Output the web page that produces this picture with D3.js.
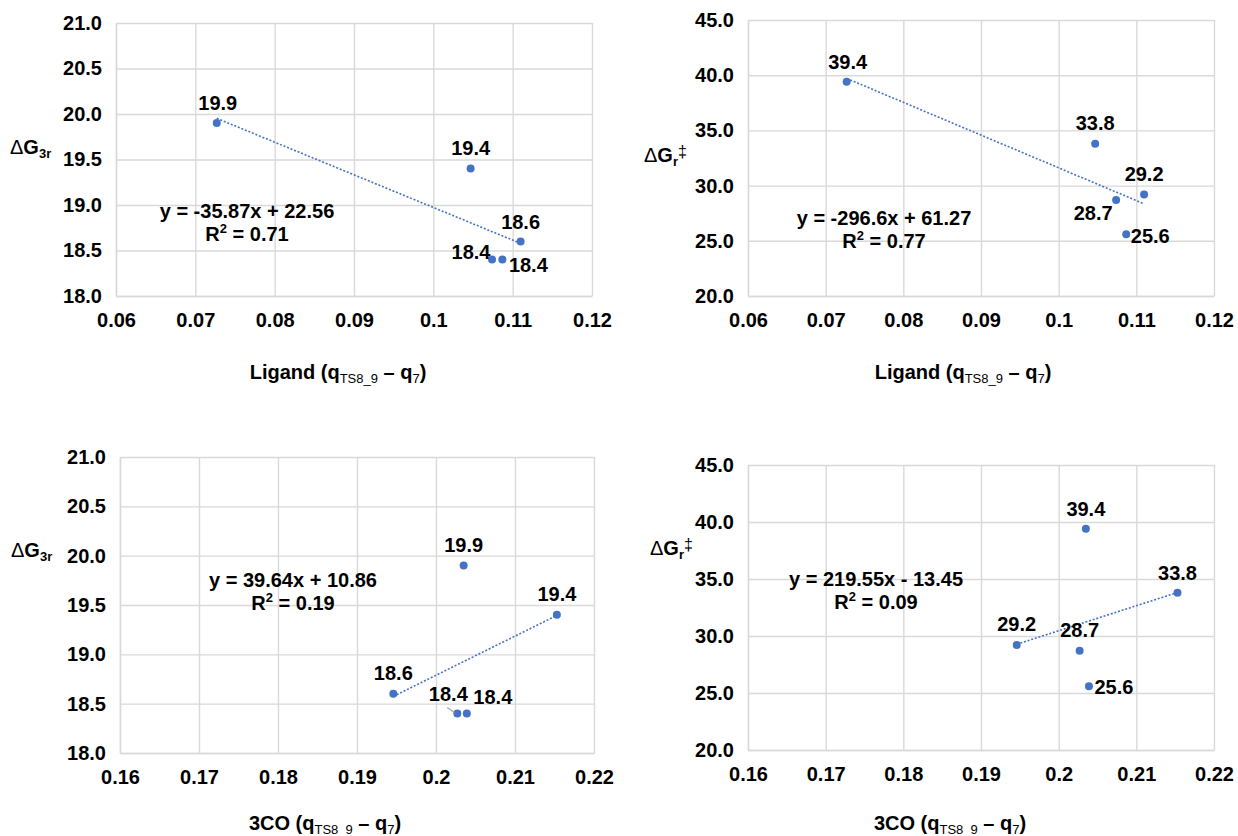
<!DOCTYPE html>
<html>
<head>
<meta charset="utf-8">
<script src="https://cdn.jsdelivr.net/npm/d3@7"></script>
<style>
  html, body { margin: 0; padding: 0; background: #ffffff; }
  svg { display: block; }
  text { font-family: "Liberation Sans", Arial, sans-serif; fill: #000; }
</style>
</head>
<body>
<svg id="chart" width="1238" height="836"></svg>
<script>
// ---------------- data ----------------
const ligandCharge = [0.0727, 0.1047, 0.1110, 0.1074, 0.1087];
const coCharge     = [0.2035, 0.2153, 0.1946, 0.2027, 0.2039];
const dG3r         = [19.9, 19.4, 18.6, 18.4, 18.4];
const dGr          = [39.4, 33.8, 29.2, 28.7, 25.6];

const ligandTicks = [0.06, 0.07, 0.08, 0.09, 0.10, 0.11, 0.12];
const coTicks     = [0.16, 0.17, 0.18, 0.19, 0.20, 0.21, 0.22];
const dG3rTicks   = [18.0, 18.5, 19.0, 19.5, 20.0, 20.5, 21.0];
const dGrTicks    = [20.0, 25.0, 30.0, 35.0, 40.0, 45.0];

const trendSlopes     = [-35.87, -296.6, 39.64, 219.55];
const trendIntercepts = [22.56, 61.27, 10.86, -13.45];
const trendR2         = [0.71, 0.77, 0.19, 0.09];

// ---------------- layout ----------------
const panels = [
  { xs: ligandCharge, ys: dG3r, xTicks: ligandTicks, yTicks: dG3rTicks, xName: "Ligand", yKind: "3r",
    left: 116, right: 592, top: 23, bottom: 296,
    xTitle: [338, 372], yTitle: [10, 147], eq: [247, 211],
    lab: [[1,-20],[0,-21],[0,-20],[-21,-8],[26,5]] },
  { xs: ligandCharge, ys: dGr, xTicks: ligandTicks, yTicks: dGrTicks, xName: "Ligand", yKind: "r",
    left: 748, right: 1214, top: 20, bottom: 296,
    xTitle: [963, 372], yTitle: [644, 155], eq: [884, 218],
    lab: [[1,-20],[0,-21],[0,-21],[-23,13],[24,2]] },
  { xs: coCharge, ys: dG3r, xTicks: coTicks, yTicks: dG3rTicks, xName: "3CO", yKind: "3r",
    left: 120, right: 594, top: 457, bottom: 753,
    xTitle: [325, 823], yTitle: [11, 550], eq: [293, 580],
    lab: [[0,-21],[0,-21],[0,-21],[-9,-20],[26,-17]], leader: 3 },
  { xs: coCharge, ys: dGr, xTicks: coTicks, yTicks: dGrTicks, xName: "3CO", yKind: "r",
    left: 748, right: 1214, top: 465, bottom: 750,
    xTitle: [950, 823], yTitle: [650, 548], eq: [876, 579],
    lab: [[0,-20],[0,-20],[0,-21],[0,-21],[25,1]] }
];

const BLUE = "#4472C4";
const GRID = "#d9d9d9";
const FS = 20;
const svg = d3.select("#chart");
const fmtX = d3.format(".2~f");
const fmtY = d3.format(".1f");

panels.forEach((p, i) => {
  const x = d3.scaleLinear().domain(d3.extent(p.xTicks)).range([p.left, p.right]);
  const y = d3.scaleLinear().domain(d3.extent(p.yTicks)).range([p.bottom, p.top]);
  const W = p.right - p.left, H = p.bottom - p.top;
  const g = svg.append("g");

  // y axis + horizontal grid
  const ya = g.append("g").attr("transform", `translate(${p.left},0)`)
    .call(d3.axisLeft(y).tickValues(p.yTicks).tickFormat(fmtY).tickSize(-W).tickSizeOuter(0).tickPadding(14));
  // x axis + vertical grid
  const xa = g.append("g").attr("transform", `translate(0,${p.bottom})`)
    .call(d3.axisBottom(x).tickValues(p.xTicks).tickFormat(fmtX).tickSize(-H).tickSizeOuter(0).tickPadding(17));
  [ya, xa].forEach(a => {
    a.selectAll("line").attr("stroke", GRID).attr("stroke-width", 1.4);
    a.select(".domain").attr("stroke", GRID).attr("stroke-width", 1.4);
    a.selectAll("text").attr("font-size", FS).attr("font-weight", "bold")
      .attr("font-family", '"Liberation Sans", Arial, sans-serif').attr("fill", "#000");
  });

  // trendline
  const xMin = d3.min(p.xs), xMax = d3.max(p.xs);
  const f = v => trendSlopes[i] * v + trendIntercepts[i];
  g.append("line")
    .attr("x1", x(xMin)).attr("y1", y(f(xMin)))
    .attr("x2", x(xMax)).attr("y2", y(f(xMax)))
    .attr("stroke", BLUE).attr("stroke-width", 1.6).attr("stroke-dasharray", "2,1.8");

  // points
  const pts = p.xs.map((v, k) => ({ x: v, y: p.ys[k], k }));
  g.selectAll("circle").data(pts).join("circle")
    .attr("cx", d => x(d.x)).attr("cy", d => y(d.y)).attr("r", 4).attr("fill", BLUE);

  // leader line
  if (p.leader !== undefined) {
    const d = pts[p.leader];
    const o = p.lab[p.leader];
    g.append("line")
      .attr("x1", x(d.x) + o[0] - 1).attr("y1", y(d.y) + o[1] + 14)
      .attr("x2", x(d.x) - 3).attr("y2", y(d.y) - 1)
      .attr("stroke", "#a6a6a6").attr("stroke-width", 1.3);
  }

  // data labels
  g.selectAll("text.lab").data(pts).join("text").attr("class", "lab")
    .attr("x", d => x(d.x) + p.lab[d.k][0])
    .attr("y", d => y(d.y) + p.lab[d.k][1])
    .attr("dy", "0.36em").attr("text-anchor", "middle")
    .attr("font-size", FS).attr("font-weight", "bold")
    .text(d => fmtY(d.y));

  // equation
  const s = trendSlopes[i], b = trendIntercepts[i];
  const eqText = `y = ${s}x ${b < 0 ? "-" : "+"} ${Math.abs(b)}`;
  g.append("text").attr("x", p.eq[0]).attr("y", p.eq[1]).attr("dy", "0.36em")
    .attr("text-anchor", "middle").attr("font-size", FS).attr("font-weight", "bold").text(eqText);
  const r2 = g.append("text").attr("x", p.eq[0]).attr("y", p.eq[1] + 23).attr("dy", "0.36em")
    .attr("text-anchor", "middle").attr("font-size", FS).attr("font-weight", "bold");
  r2.append("tspan").text("R");
  r2.append("tspan").attr("font-size", 13).attr("dy", "-8").text("2");
  r2.append("tspan").attr("dy", "8").text(" = " + trendR2[i].toFixed(2));

  // x title
  const xt = g.append("text").attr("x", p.xTitle[0]).attr("y", p.xTitle[1]).attr("dy", "0.36em")
    .attr("text-anchor", "middle").attr("font-size", FS).attr("font-weight", "bold");
  xt.append("tspan").text(p.xName + " (q");
  xt.append("tspan").attr("font-size", 13).attr("font-weight", "normal").attr("dy", 4).text("TS8_9");
  xt.append("tspan").attr("dy", -4).text(" \u2013 q");
  xt.append("tspan").attr("font-size", 13).attr("font-weight", "normal").attr("dy", 4).text("7");
  xt.append("tspan").attr("dy", -4).text(")");

  // y title
  const yt = g.append("text").attr("x", p.yTitle[0]).attr("y", p.yTitle[1]).attr("dy", "0.36em")
    .attr("font-size", FS);
  yt.append("tspan").attr("font-weight", "normal").text("\u0394");
  yt.append("tspan").attr("font-weight", "bold").text("G");
  if (p.yKind === "3r") {
    yt.append("tspan").attr("font-size", 13).attr("font-weight", "bold").attr("dy", 4).text("3r");
  } else {
    yt.append("tspan").attr("font-size", 13).attr("font-weight", "bold").attr("dy", 4).text("r");
    yt.append("tspan").attr("font-size", 16).attr("font-weight", "normal").attr("dy", -9).text("\u2021");
  }
});
</script>
</body>
</html>
